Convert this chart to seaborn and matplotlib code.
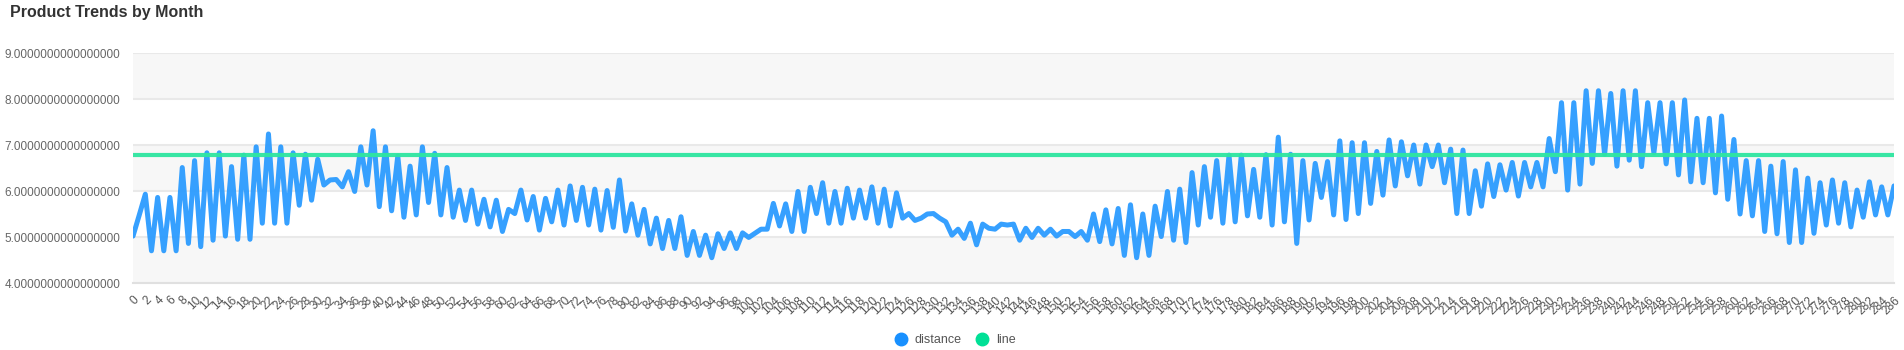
import matplotlib
matplotlib.use("Agg")
import matplotlib.pyplot as plt
import numpy as np
import pandas as pd
import seaborn as sns
from matplotlib.lines import Line2D

# ---- data -------------------------------------------------------------
categories = [str(i) for i in range(287)]

distance = [
    5.02, 5.47, 5.93, 4.70, 5.86, 4.70, 5.86, 4.70, 6.51, 4.86,
    6.66, 4.79, 6.83, 4.93, 6.83, 5.02, 6.53, 4.95, 6.78, 4.95,
    6.96, 5.30, 7.24, 5.30, 6.96, 5.30, 6.83, 5.69, 6.80, 5.80,
    6.69, 6.13, 6.24, 6.25, 6.09, 6.42, 5.99, 6.96, 6.13, 7.31,
    5.66, 6.96, 5.57, 6.76, 5.43, 6.54, 5.48, 6.96, 5.75, 6.82,
    5.48, 6.51, 5.43, 6.02, 5.36, 6.02, 5.28, 5.82, 5.22, 5.80,
    5.12, 5.60, 5.51, 6.02, 5.37, 5.88, 5.15, 5.84, 5.33, 6.02,
    5.26, 6.11, 5.36, 6.08, 5.26, 6.04, 5.15, 6.01, 5.21, 6.24,
    5.13, 5.72, 5.04, 5.60, 4.85, 5.41, 4.75, 5.36, 4.75, 5.44,
    4.60, 5.12, 4.60, 5.04, 4.55, 5.07, 4.75, 5.09, 4.75, 5.09,
    4.99, 5.08, 5.17, 5.17, 5.73, 5.24, 5.72, 5.12, 5.99, 5.12,
    6.08, 5.51, 6.18, 5.30, 5.99, 5.30, 6.06, 5.41, 6.02, 5.41,
    6.09, 5.30, 6.04, 5.24, 5.96, 5.41, 5.51, 5.36, 5.41, 5.50,
    5.51, 5.41, 5.33, 5.04, 5.17, 4.97, 5.30, 4.83, 5.28, 5.19,
    5.17, 5.28, 5.26, 5.28, 4.93, 5.19, 4.99, 5.19, 5.04, 5.17,
    5.02, 5.12, 5.12, 5.01, 5.12, 4.93, 5.50, 4.90, 5.59, 4.85,
    5.62, 4.60, 5.70, 4.55, 5.50, 4.60, 5.67, 5.01, 5.99, 4.93,
    6.04, 4.88, 6.40, 5.26, 6.53, 5.43, 6.66, 5.30, 6.78, 5.33,
    6.78, 5.46, 6.47, 5.43, 6.79, 5.26, 7.17, 5.33, 6.80, 4.86,
    6.66, 5.37, 6.60, 5.86, 6.64, 5.48, 7.09, 5.38, 7.05, 5.51,
    7.05, 5.73, 6.86, 5.91, 7.11, 6.11, 7.07, 6.33, 7.00, 6.15,
    7.00, 6.53, 7.00, 6.18, 6.91, 5.51, 6.89, 5.51, 6.44, 5.67,
    6.59, 5.88, 6.57, 6.02, 6.62, 5.89, 6.62, 6.09, 6.62, 6.09,
    7.14, 6.42, 7.92, 6.02, 7.92, 6.15, 8.18, 6.60, 8.18, 6.80,
    8.12, 6.54, 8.18, 6.67, 8.18, 6.53, 7.92, 6.83, 7.92, 6.59,
    7.92, 6.35, 7.98, 6.20, 7.58, 6.18, 7.58, 5.96, 7.63, 5.82,
    7.12, 5.50, 6.66, 5.46, 6.66, 5.12, 6.54, 5.07, 6.64, 4.88,
    6.46, 4.88, 6.28, 5.08, 6.18, 5.26, 6.24, 5.30, 6.18, 5.22,
    6.02, 5.43, 6.20, 5.48, 6.09, 5.48, 6.11,
]

line = [
    6.78, 6.78, 6.78, 6.78, 6.78, 6.78, 6.78, 6.78, 6.78, 6.78,
    6.78, 6.78, 6.78, 6.78, 6.78, 6.78, 6.78, 6.78, 6.78, 6.78,
    6.78, 6.78, 6.78, 6.78, 6.78, 6.78, 6.78, 6.78, 6.78, 6.78,
    6.78, 6.78, 6.78, 6.78, 6.78, 6.78, 6.78, 6.78, 6.78, 6.78,
    6.78, 6.78, 6.78, 6.78, 6.78, 6.78, 6.78, 6.78, 6.78, 6.78,
    6.78, 6.78, 6.78, 6.78, 6.78, 6.78, 6.78, 6.78, 6.78, 6.78,
    6.78, 6.78, 6.78, 6.78, 6.78, 6.78, 6.78, 6.78, 6.78, 6.78,
    6.78, 6.78, 6.78, 6.78, 6.78, 6.78, 6.78, 6.78, 6.78, 6.78,
    6.78, 6.78, 6.78, 6.78, 6.78, 6.78, 6.78, 6.78, 6.78, 6.78,
    6.78, 6.78, 6.78, 6.78, 6.78, 6.78, 6.78, 6.78, 6.78, 6.78,
    6.78, 6.78, 6.78, 6.78, 6.78, 6.78, 6.78, 6.78, 6.78, 6.78,
    6.78, 6.78, 6.78, 6.78, 6.78, 6.78, 6.78, 6.78, 6.78, 6.78,
    6.78, 6.78, 6.78, 6.78, 6.78, 6.78, 6.78, 6.78, 6.78, 6.78,
    6.78, 6.78, 6.78, 6.78, 6.78, 6.78, 6.78, 6.78, 6.78, 6.78,
    6.78, 6.78, 6.78, 6.78, 6.78, 6.78, 6.78, 6.78, 6.78, 6.78,
    6.78, 6.78, 6.78, 6.78, 6.78, 6.78, 6.78, 6.78, 6.78, 6.78,
    6.78, 6.78, 6.78, 6.78, 6.78, 6.78, 6.78, 6.78, 6.78, 6.78,
    6.78, 6.78, 6.78, 6.78, 6.78, 6.78, 6.78, 6.78, 6.78, 6.78,
    6.78, 6.78, 6.78, 6.78, 6.78, 6.78, 6.78, 6.78, 6.78, 6.78,
    6.78, 6.78, 6.78, 6.78, 6.78, 6.78, 6.78, 6.78, 6.78, 6.78,
    6.78, 6.78, 6.78, 6.78, 6.78, 6.78, 6.78, 6.78, 6.78, 6.78,
    6.78, 6.78, 6.78, 6.78, 6.78, 6.78, 6.78, 6.78, 6.78, 6.78,
    6.78, 6.78, 6.78, 6.78, 6.78, 6.78, 6.78, 6.78, 6.78, 6.78,
    6.78, 6.78, 6.78, 6.78, 6.78, 6.78, 6.78, 6.78, 6.78, 6.78,
    6.78, 6.78, 6.78, 6.78, 6.78, 6.78, 6.78, 6.78, 6.78, 6.78,
    6.78, 6.78, 6.78, 6.78, 6.78, 6.78, 6.78, 6.78, 6.78, 6.78,
    6.78, 6.78, 6.78, 6.78, 6.78, 6.78, 6.78, 6.78, 6.78, 6.78,
    6.78, 6.78, 6.78, 6.78, 6.78, 6.78, 6.78, 6.78, 6.78, 6.78,
    6.78, 6.78, 6.78, 6.78, 6.78, 6.78, 6.78,
]

y_ticks = [4, 5, 6, 7, 8, 9]

# ---- styling -----------------------------------------------------------
sns.set_theme(style="white")
plt.rcParams["font.family"] = ["Liberation Sans", "DejaVu Sans"]

BLUE = "#2b9bff"
GREEN = "#2ee6a0"
LEGEND_BLUE = "#1890ff"
LEGEND_GREEN = "#00e096"
TEXT = "#666666"
GRID = "#e9e9e9"
BAND = "#f7f7f7"

DPI = 100
W, H = 1904, 350
fig = plt.figure(figsize=(W / DPI, H / DPI), dpi=DPI)
ax = fig.add_axes([133 / W, 1 - 283 / H, (1894 - 133) / W, (283 - 53) / H])

df = pd.DataFrame({
    "idx": np.arange(len(categories)),
    "distance": distance,
    "line": line,
})

# alternating horizontal split areas
for k, (lo, hi) in enumerate(zip(y_ticks[:-1], y_ticks[1:])):
    if k % 2 == 0:
        ax.axhspan(lo, hi, color=BAND, zorder=0, lw=0)

sns.lineplot(data=df, x="idx", y="distance", ax=ax, color=BLUE,
             linewidth=3.6, alpha=0.95, zorder=3, legend=False)
sns.lineplot(data=df, x="idx", y="line", ax=ax, color=GREEN,
             linewidth=3.0, alpha=0.95, zorder=4, legend=False)

ax.set_xlim(0, len(categories) - 1)
ax.set_ylim(y_ticks[0], y_ticks[-1])
ax.set_xlabel("")
ax.set_ylabel("")

ax.set_yticks(y_ticks)
ax.set_yticklabels([f"{v:.16f}" for v in y_ticks])
ax.yaxis.grid(True, color=GRID, linewidth=1.5, zorder=1)
ax.xaxis.grid(False)
ax.tick_params(axis="y", length=0, pad=9, labelsize=8.5, labelcolor=TEXT)

step = 2
ax.set_xticks(df["idx"][::step])
ax.set_xticklabels(categories[::step], rotation=45, ha="right",
                   rotation_mode="anchor")
ax.tick_params(axis="x", length=5, width=1, color="#e0e0e0", pad=3,
               labelsize=8.6, labelcolor="#555555")

for side in ("top", "right", "left"):
    ax.spines[side].set_visible(False)
ax.spines["bottom"].set_color("#e0e0e0")
ax.spines["bottom"].set_linewidth(1.5)

fig.text(10 / W, 1 - 5 / H, "Product Trends by Month", ha="left", va="top",
         fontsize=11.5, fontweight="bold", color="#333333")

handles = [
    Line2D([], [], marker="o", linestyle="none", markersize=9,
           markerfacecolor=LEGEND_BLUE, markeredgecolor=LEGEND_BLUE,
           label="distance"),
    Line2D([], [], marker="o", linestyle="none", markersize=9,
           markerfacecolor=LEGEND_GREEN, markeredgecolor=LEGEND_GREEN,
           label="line"),
]
leg = fig.legend(handles=handles, loc="center", bbox_to_anchor=(0.5, 1 - 340 / H),
                 ncol=2, frameon=False, fontsize=9, handletextpad=0.1,
                 columnspacing=0.6, labelcolor="#555555")

fig.savefig("out.png", dpi=DPI)
